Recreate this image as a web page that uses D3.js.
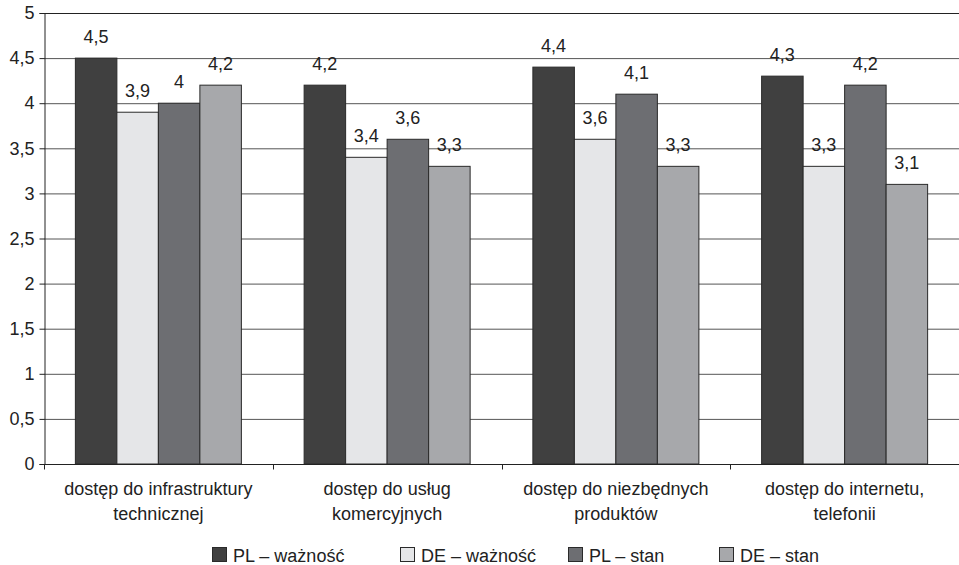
<!DOCTYPE html>
<html><head><meta charset="utf-8">
<script src="https://cdn.jsdelivr.net/npm/d3@7"></script>
<style>body{margin:0;background:#fff}svg{display:block}text{font-family:"Liberation Sans",Arial,sans-serif;fill:#222}</style>
</head><body><svg id="c" width="959" height="565"></svg>
<script>
const categories = [["dostęp do infrastruktury","technicznej"],["dostęp do usług","komercyjnych"],["dostęp do niezbędnych","produktów"],["dostęp do internetu,","telefonii"]];
const seriesNames = ["PL – ważność","DE – ważność","PL – stan","DE – stan"];
const plWaznosc = [4.5,4.2,4.4,4.3];
const deWaznosc = [3.9,3.4,3.6,3.3];
const plStan = [4.0,3.6,4.1,4.2];
const deStan = [4.2,3.3,3.3,3.1];
const colors = ["#404040","#e5e6e8","#6d6e72","#a7a8ab"];
const yTicks = [0,0.5,1,1.5,2,2.5,3,3.5,4,4.5,5];
const series = [plWaznosc,deWaznosc,plStan,deStan];

const svg = d3.select("#c");
const L=44,R=959,T=13,B=464;
const x = d3.scaleBand().domain(d3.range(categories.length)).range([L,R]).paddingInner(0).paddingOuter(0);
const y = d3.scaleLinear().domain([0,5]).range([B,T]);
const fmt = v => String(v).replace(".",",");

// gridlines
svg.append("g").selectAll("line").data(yTicks.filter(d=>d>0)).join("line")
 .attr("x1",L).attr("x2",R).attr("y1",d=>y(d)+0.5).attr("y2",d=>y(d)+0.5)
 .attr("stroke",d=>d===5?"#222":"#555").attr("stroke-width",1);

// bars
const bw = 41.5;
const x1 = d3.scaleBand().domain(d3.range(4)).range([0,bw*4]);
const g = svg.append("g");
categories.forEach((c,i)=>{
  const gx = x(i)+(x.bandwidth()-bw*4)/2;
  series.forEach((s,j)=>{
    g.append("rect").attr("x",gx+x1(j)).attr("y",y(s[i])).attr("width",x1.bandwidth()).attr("height",y(0)-y(s[i]))
     .attr("fill",colors[j]).attr("stroke","#2a2a2a").attr("stroke-width",1);
    g.append("text").attr("x",gx+x1(j)+x1.bandwidth()/2).attr("y",y(s[i])-15).attr("text-anchor","middle")
     .attr("font-size",18).text(fmt(s[i]));
  });
});

// y axis
const ya = svg.append("g").attr("transform",`translate(${L+0.5},0)`)
 .call(d3.axisLeft(y).tickValues(yTicks).tickSize(5).tickFormat(fmt));
ya.selectAll("text").attr("font-size",18).attr("dx","-2").attr("font-family",null);
ya.select(".domain").attr("stroke","#222");
ya.selectAll(".tick line").attr("stroke","#222");

// x axis
const xa = svg.append("g").attr("transform",`translate(0,${B+0.5})`);
xa.append("line").attr("x1",L).attr("x2",R).attr("stroke","#222");
xa.selectAll(".t").data(d3.range(categories.length+1)).join("line")
 .attr("x1",d=>Math.round(d<categories.length?x(d):R)+0.5).attr("x2",d=>Math.round(d<categories.length?x(d):R)+0.5)
 .attr("y1",0).attr("y2",5).attr("stroke","#222");
categories.forEach((c,i)=>{
  c.forEach((line,k)=>{
    svg.append("text").attr("x",x(i)+x.bandwidth()/2).attr("y",495+k*25).attr("text-anchor","middle").attr("font-size",18).text(line);
  });
});

// legend
const lx=[212,400,568,719];
seriesNames.forEach((n,j)=>{
  svg.append("rect").attr("x",lx[j]+0.5).attr("y",547.5).attr("width",14).attr("height",14).attr("fill",colors[j]).attr("stroke","#2a2a2a");
  svg.append("text").attr("x",lx[j]+21).attr("y",562).attr("font-size",18).text(n);
});
</script></body></html>
